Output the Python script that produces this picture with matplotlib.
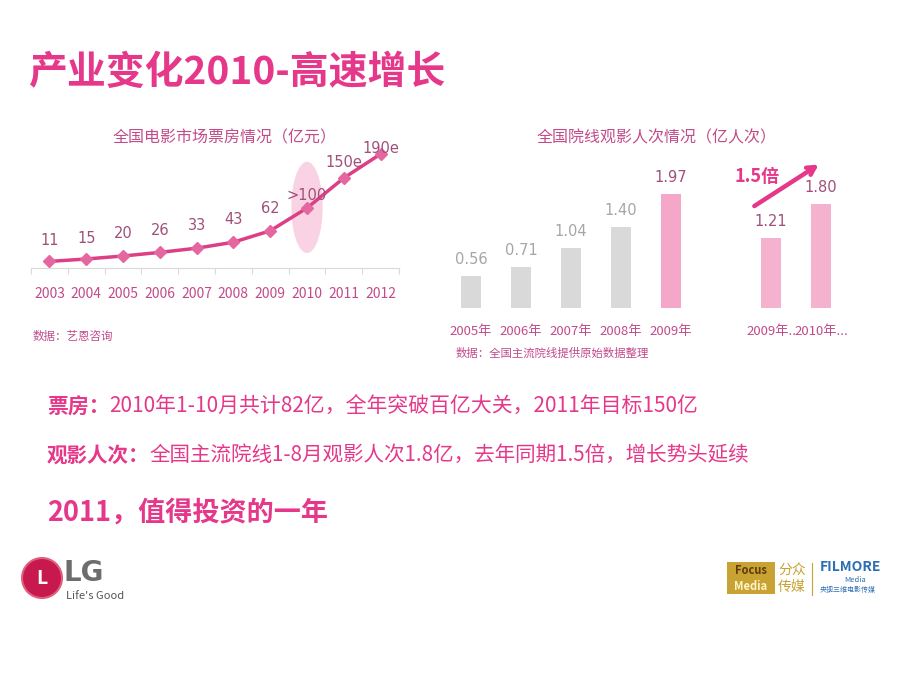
import matplotlib
matplotlib.use("Agg")
import matplotlib.pyplot as plt
import numpy as np
from matplotlib.patches import Ellipse, Circle, Rectangle

plt.rcParams['font.family'] = ['Noto Sans CJK SC', 'DejaVu Sans']

# box office data (亿元)
years = ['2003', '2004', '2005', '2006', '2007', '2008', '2009', '2010', '2011', '2012']
box_office = [11, 15, 20, 26, 33, 43, 62, 100, 150, 190]
box_labels = ['11', '15', '20', '26', '33', '43', '62', '>100', '150e', '190e']

# admissions data (亿人次)
adm_cats = ['2005年', '2006年', '2007年', '2008年', '2009年', '2009年..', '2010年...']
adm_vals = [0.56, 0.71, 1.04, 1.40, 1.97, 1.21, 1.80]
adm_labels = ['0.56', '0.71', '1.04', '1.40', '1.97', '1.21', '1.80']
adm_pos = [0, 1, 2, 3, 4, 6, 7]

# label offsets above the points, in points (layout only)
label_gap = [15, 15, 16, 16, 16, 16, 16, 9, 11, 4]

PINK = '#e5388a'
MAUVE = '#a0507a'
LABEL_PINK = '#c24b8a'

W, H = 920, 690
fig = plt.figure(figsize=(9.2, 6.9), dpi=100)
fig.patch.set_facecolor('white')


def px(x, y):
    return x / W, 1 - y / H


# title
fig.text(*px(28, 72), '产业变化2010-高速增长', fontsize=28, fontweight='bold',
         color=PINK, va='center', ha='left')

# ---- line chart ----
ax1 = fig.add_axes([31 / W, 1 - 268 / H, 368 / W, 120 / H])
x = np.arange(len(years))
ax1.set_xlim(-0.5, len(years) - 0.5)
ax1.set_ylim(0, 200)
ax1.add_patch(Ellipse((7, 101), 0.85, 152, facecolor='#f9d3e3', edgecolor='none', zorder=1))
ax1.plot(x, box_office, color='#dd3f86', lw=2.5, zorder=2)
ax1.plot(x, box_office, ls='none', marker='D', ms=6.5, color='#e4679f', zorder=3)
for xi, v, lab, g in zip(x, box_office, box_labels, label_gap):
    ax1.annotate(lab, xy=(xi, v), xytext=(0, g), textcoords='offset points',
                 ha='center', va='center', fontsize=10.5, color=MAUVE,
                 family=['DejaVu Sans'], zorder=4, annotation_clip=False)
ax1.set_xticks(np.arange(len(years) + 1) - 0.5)
ax1.set_xticklabels([])
ax1.set_xticks(x, minor=True)
ax1.set_xticklabels(years, minor=True, fontsize=10, color=LABEL_PINK)
ax1.tick_params(axis='x', which='major', length=4, color='#d9d9d9', direction='out')
ax1.tick_params(axis='x', which='minor', length=0, pad=14)
ax1.set_yticks([])
for s in ['top', 'right', 'left']:
    ax1.spines[s].set_visible(False)
ax1.spines['bottom'].set_color('#d9d9d9')
ax1.patch.set_alpha(0)
fig.text(*px(225, 138), '全国电影市场票房情况（亿元）', fontsize=11.5, color=LABEL_PINK,
         ha='center', va='center')
fig.text(*px(33, 336), '数据：艺恩咨询', fontsize=8.3, color=LABEL_PINK, ha='left', va='center')

# ---- bar chart ----
ax2 = fig.add_axes([446 / W, 1 - 308 / H, 400 / W, 127 / H])
ax2.set_xlim(-0.5, 7.5)
ax2.set_ylim(0, 2.2)
bar_colors = ['#d9d9d9'] * 4 + ['#f4a7c8', '#f5b2cf', '#f5b2cf']
lab_colors = ['#a6a6a6'] * 4 + [MAUVE] * 3
ax2.bar(adm_pos, adm_vals, width=0.4, color=bar_colors)
for p, v, lab, c in zip(adm_pos, adm_vals, adm_labels, lab_colors):
    ax2.annotate(lab, xy=(p, v), xytext=(0, 12), textcoords='offset points',
                 ha='center', va='center', fontsize=10.5, color=c,
                 family=['DejaVu Sans'], annotation_clip=False)
ax2.set_xticks(adm_pos)
ax2.set_xticklabels(adm_cats, fontsize=9.5, color=LABEL_PINK)
ax2.tick_params(axis='x', length=0, pad=12)
ax2.set_yticks([])
for s in ax2.spines.values():
    s.set_visible(False)
ax2.patch.set_alpha(0)
ax2.annotate('', xy=(7.0, 2.51), xytext=(5.62, 1.74), xycoords='data',
             arrowprops=dict(arrowstyle='->,head_length=0.55,head_width=0.3',
                             color=PINK, lw=3.2),
             annotation_clip=False)
fig.text(*px(757, 176), '1.5倍', fontsize=13, fontweight='bold', color=PINK,
         ha='center', va='center')
fig.text(*px(657, 138), '全国院线观影人次情况（亿人次）', fontsize=11.5, color=LABEL_PINK,
         ha='center', va='center')
fig.text(*px(456, 353), '数据：全国主流院线提供原始数据整理', fontsize=8.2, color=LABEL_PINK,
         ha='left', va='center')

# ---- text lines ----
t1 = fig.text(*px(47, 407), '票房：', fontsize=15, fontweight='bold', color=PINK,
              ha='left', va='center')
plt.annotate('2010年1-10月共计82亿，全年突破百亿大关，2011年目标150亿',
             xy=(1, 0.5), xycoords=t1, fontsize=15, color=PINK,
             ha='left', va='center', annotation_clip=False)
t2 = fig.text(*px(47, 455), '观影人次：', fontsize=14.8, fontweight='bold', color=PINK,
              ha='left', va='center')
plt.annotate('全国主流院线1-8月观影人次1.8亿，去年同期1.5倍，增长势头延续',
             xy=(1, 0.5), xycoords=t2, fontsize=14.8, color=PINK,
             ha='left', va='center', annotation_clip=False)
fig.text(*px(47, 513), '2011，值得投资的一年', fontsize=19.5, fontweight='bold', color=PINK,
         ha='left', va='center')

# ---- logos ----
axl = fig.add_axes([0, 0, 1, 1])
axl.set_xlim(0, W)
axl.set_ylim(H, 0)
axl.axis('off')
axl.patch.set_alpha(0)
axl.add_patch(Circle((42, 578), 20, facecolor='#c8194f', edgecolor='#e0607f', lw=1.5))
axl.text(42, 578, 'L', fontsize=14, color='white', ha='center', va='center', fontweight='bold')
axl.text(64, 573, 'LG', fontsize=20, fontweight='bold', color='#6d6d6d', ha='left', va='center',
         family=['DejaVu Sans'])
axl.text(66, 596, "Life's Good", fontsize=8, color='#555555', ha='left', va='center')
axl.add_patch(Rectangle((727, 562), 48, 32, facecolor='#c8a232', edgecolor='none'))
axl.text(751, 570, 'Focus', fontsize=8, fontweight='bold', color='#5a3d0a', ha='center', va='center')
axl.text(751, 586, 'Media', fontsize=8, fontweight='bold', color='#fff4c8', ha='center', va='center')
axl.text(778, 570, '分众', fontsize=10, color='#c8a232', ha='left', va='center')
axl.text(778, 587, '传媒', fontsize=10, color='#c8a232', ha='left', va='center')
axl.plot([812, 812], [563, 595], color='#c8a232', lw=0.8)
axl.text(820, 567, 'FILMORE', fontsize=10, fontweight='bold', color='#2c6fb4', ha='left', va='center')
axl.text(866, 580, 'Media', fontsize=5.5, color='#2c6fb4', ha='right', va='center')
axl.text(820, 590, '央视三维电影传媒', fontsize=5, color='#2c6fb4', ha='left', va='center')

fig.savefig('out.png', dpi=100, facecolor='white')
